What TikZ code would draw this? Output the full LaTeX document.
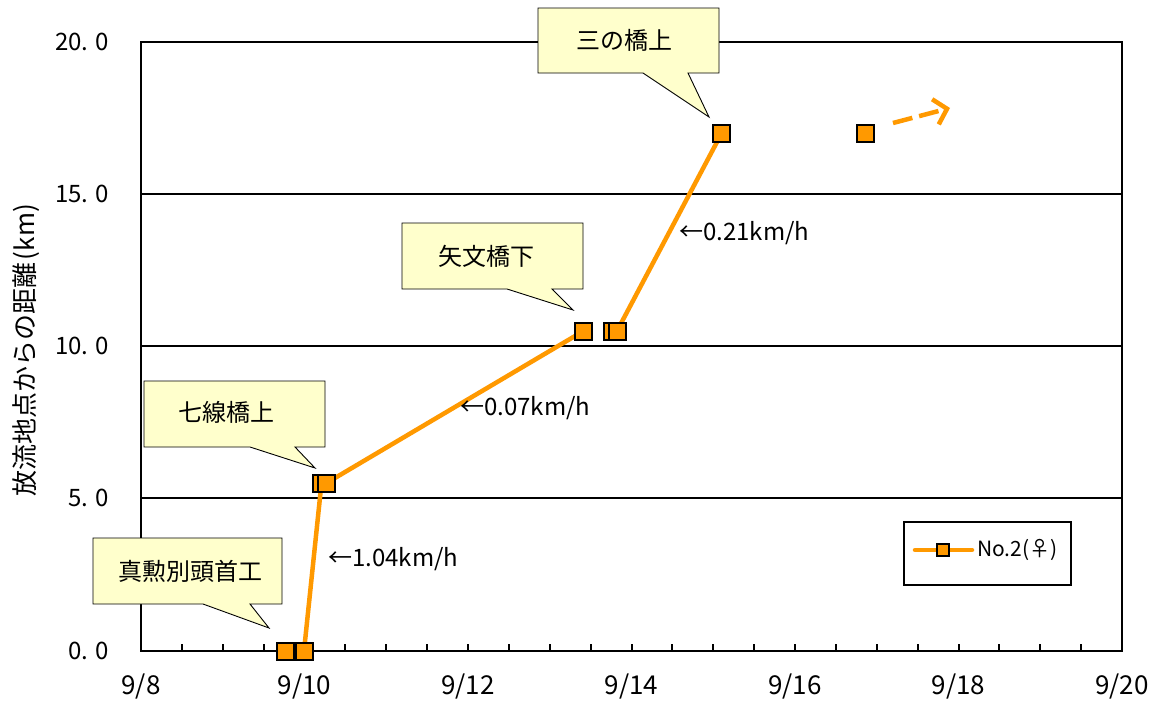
\documentclass[tikz,border=0pt]{standalone}
\usepackage{fontspec}
\setmainfont{Noto Sans CJK JP}
\usetikzlibrary{arrows.meta}
\definecolor{serorange}{HTML}{FF9900}
\definecolor{callfill}{HTML}{FFFFCC}
\tikzset{
  frameline/.style={line width=2.6pt,black},
  gridline/.style={line width=2pt,black},
  tickline/.style={line width=2pt,black},
  ylab/.style={anchor=east,font=\fontsize{24}{24}\selectfont,inner sep=0pt},
  xlab/.style={anchor=center,font=\fontsize{26}{26}\selectfont,inner sep=0pt},
  series/.style={line width=4.5pt,serorange,line join=round},
  marker/.style={draw=black,line width=2pt,fill=serorange,minimum size=17pt,inner sep=0pt,rectangle},
  callout/.style={draw=black,line width=0.9pt,fill=callfill},
  calltext/.style={font=\fontsize{24}{24}\selectfont,inner sep=0pt},
  speed/.style={anchor=west,font=\fontsize{24}{24}\selectfont,inner sep=0pt},
}
\begin{document}
\begin{tikzpicture}[x=1pt,y=-1pt]
\useasboundingbox (0,0) rectangle (1162,704);
\fill[white] (0,0) rectangle (1162,704);
% grid lines
\foreach \yy in {194,346,498} \draw[gridline] (141,\yy) -- (1122,\yy);
% x ticks (every half day)
\foreach \k in {1,...,23} \draw[tickline] ({141+40.875*\k},651) -- ({141+40.875*\k},644);
% frame
\draw[frameline] (141,42) rectangle (1122,651);
% y labels
\node[ylab] (y0) at (109,651) {0.\hspace{7pt}0};
\node[ylab] (y5) at (109,498) {5.\hspace{7pt}0};
\node[ylab] (y10) at (109,346) {10.\hspace{7pt}0};
\node[ylab] (y15) at (109,194) {15.\hspace{7pt}0};
\node[ylab] (y20) at (109,42) {20.\hspace{7pt}0};
% x labels
\foreach \d/\lab in {0/9\slash 8,2/9\slash 10,4/9\slash 12,6/9\slash 14,8/9\slash 16,10/9\slash 18,12/9\slash 20}
  \node[xlab] (x\d) at ({141+81.75*\d},686) {\lab};
% axis title
\node[rotate=90,font=\fontsize{26}{26}\selectfont,inner sep=0pt] (ytitle) at (26,350) {放流地点からの距離\hspace{2pt}(km)};
% data points
\coordinate (p1) at (285,651);
\coordinate (p2) at (304,651);
\coordinate (p3) at (321.5,483);
\coordinate (p4) at (326.5,483);
\coordinate (p5) at (583.5,331);
\coordinate (p6) at (612,331);
\coordinate (p7) at (617,331);
\coordinate (p8) at (721.5,133.5);
\coordinate (p9) at (865.5,133);
\draw[series] (p1) -- (p2) -- (p3) -- (p4) -- (p5);
\draw[series] (p6) -- (p7) -- (p8);
\foreach \p in {p1,p2,p3,p4,p5,p6,p7,p8,p9} \node[marker] (m\p) at (\p) {};
% dashed arrow
\coordinate (a1) at (893,123);
\coordinate (a2) at (950,108);
\draw[line width=4.5pt,serorange,dash pattern=on 20pt off 7pt,-{Straight Barb[length=12pt,width=26pt]}] (a1) -- (a2);
% speed labels
\node[speed] (s1) at (328,559) {←1.04km/h};
\node[speed] (s2) at (460,408) {←0.07km/h};
\node[speed] (s3) at (679,233) {←0.21km/h};
% callouts
\draw[callout] (93,538) -- (282,538) -- (282,604) -- (250,604) -- (269,628) -- (203,604) -- (93,604) -- cycle;
\node[calltext] (c1) at (190,571) {真勲別頭首工};
\draw[callout] (144,381) -- (325,381) -- (325,447) -- (295,447) -- (315,468) -- (250,447) -- (144,447) -- cycle;
\node[calltext] (c2) at (226,412) {七線橋上};
\draw[callout] (402,223) -- (583,223) -- (583,289) -- (552,289) -- (573,310) -- (507,289) -- (402,289) -- cycle;
\node[calltext] (c3) at (486,256) {矢文橋下};
\draw[callout] (538,8) -- (719,8) -- (719,73) -- (688,73) -- (709,117) -- (643,73) -- (538,73) -- cycle;
\node[calltext] (c4) at (624,40) {三の橋上};
% legend
\draw[line width=2pt,black,fill=white] (904,522) rectangle (1071,585);
\coordinate (l1) at (915,550);
\coordinate (l2) at (972,550);
\draw[series,line cap=round] (l1) -- (l2);
\node[marker,minimum size=12pt] (lm) at (943,550) {};
\node[anchor=west,font=\fontsize{21}{21}\selectfont,inner sep=0pt] (ltext) at (977,550) {No.2(♀)};
\end{tikzpicture}
\end{document}
